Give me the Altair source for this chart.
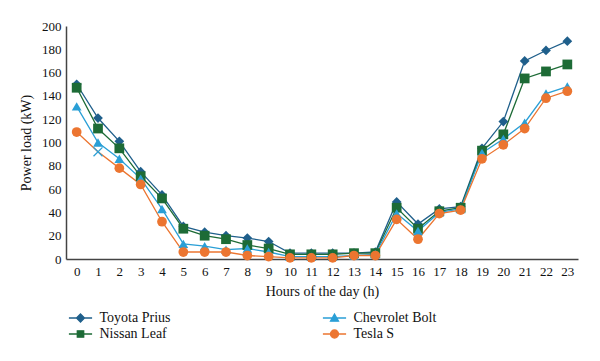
import altair as alt
import pandas as pd

hours = list(range(24))
series_names = ["Toyota Prius", "Nissan Leaf", "Chevrolet Bolt", "Tesla S"]
prius = [150, 121, 101, 75, 55, 28, 23, 20, 18, 15, 5, 5, 5, 5, 6, 49, 30, 43, 45, 95, 118, 170, 179, 187]
nissan = [147, 112, 95, 71, 52, 26, 20, 17, 12, 9, 4, 4, 4, 5, 5, 44, 26, 41, 44, 93, 107, 155, 161, 167]
chevy = [131, 100, 86, 69, 43, 13, 11, 8, 9, 6, 2, 2, 2, 3, 4, 39, 24, 40, 43, 91, 103, 117, 142, 148]
tesla = [109, 92, 78, 64, 32, 6, 6, 6, 3, 2, 1, 1, 1, 3, 3, 34, 17, 39, 42, 86, 98, 112, 138, 144]

colors = ["#1f5f8b", "#1d6b36", "#2a9fd6", "#ec7530"]
shapes = ["diamond", "square", "triangle-up", "circle"]
legend_shapes = [
    "M-2.9,0H2.9M0,-1L1,0L0,1L-1,0Z",
    "M-2.9,0H2.9M-0.8,-0.8H0.8V0.8H-0.8Z",
    "M-2.9,0H2.9M0,-1L1,0.8H-1Z",
    "M-2.9,0H2.9M-1,0A1,1 0 1,0 1,0A1,1 0 1,0 -1,0Z",
]

rows = []
for name, vals in zip(series_names, [prius, nissan, chevy, tesla]):
    for h, v in zip(hours, vals):
        rows.append({"hour": h, "load": v, "series": name,
                     "glitch": (name == "Tesla S" and h == 1),
                     "ord": series_names.index(name)})
df = pd.DataFrame(rows)

font = "Liberation Serif"

x_enc = alt.X("hour:O", title="Hours of the day (h)",
              axis=alt.Axis(labelAngle=0, ticks=False, labelPadding=6, titlePadding=6))
y_enc = alt.Y("load:Q", title="Power load (kW)",
              scale=alt.Scale(domain=[0, 200]),
              axis=alt.Axis(values=list(range(0, 201, 20)), ticks=False, grid=False,
                            labelPadding=5, titlePadding=8))

color_scale = alt.Scale(domain=series_names, range=colors)
shape_scale = alt.Scale(domain=series_names, range=shapes)
legend_shape_scale = alt.Scale(domain=series_names, range=legend_shapes)

base = alt.Chart(df)

lines = base.mark_line(strokeWidth=1.3).encode(
    x=x_enc, y=y_enc,
    color=alt.Color("series:N", scale=color_scale, legend=None),
    detail="series:N",
)

points = base.transform_filter("!datum.glitch").mark_point(
    filled=True, size=95, opacity=1
).encode(
    x=x_enc, y=y_enc,
    color=alt.Color("series:N", scale=color_scale, legend=None),
    shape=alt.Shape("series:N", scale=shape_scale, legend=None),
    order=alt.Order("ord:Q"),
)

glitch = base.transform_filter("datum.glitch").mark_point(
    shape="M-1,-1L1,1M1,-1L-1,1", filled=False, size=80, color="#2a9fd6",
    strokeWidth=1.3, opacity=1
).encode(x=x_enc, y=y_enc)

legend = alt.Legend(
    title=None, orient="none", legendX=7.5, legendY=285, columns=2,
    columnPadding=149, rowPadding=2, symbolSize=64, labelOffset=12,
    labelFont=font, labelFontSize=14, labelColor="#111", padding=0,
    symbolStrokeWidth=1.3, symbolOpacity=1,
)

legend_layer = base.transform_filter("false").mark_point(
    filled=True, size=64, strokeWidth=1.3
).encode(
    x=x_enc, y=y_enc,
    fill=alt.Fill("series:N", scale=color_scale, legend=legend),
    stroke=alt.Stroke("series:N", scale=color_scale, legend=legend),
    shape=alt.Shape("series:N", scale=legend_shape_scale, legend=legend),
)

chart = alt.layer(lines, points, glitch, legend_layer).resolve_scale(
    color="independent", shape="independent", fill="independent", stroke="independent"
).properties(
    width=512, height=233,
    autosize=alt.AutoSizeParams(type="none"),
    padding={"left": 58, "top": 18, "right": 14, "bottom": 94},
).configure_view(stroke=None).configure_axis(
    labelFont=font, titleFont=font, labelFontSize=13, titleFontSize=14,
    titleFontWeight="normal", labelColor="#111", titleColor="#111",
    domainColor="#444", domainWidth=1.5, grid=False,
)

chart.save("out.html", embed_options={"renderer": "svg", "actions": False})
